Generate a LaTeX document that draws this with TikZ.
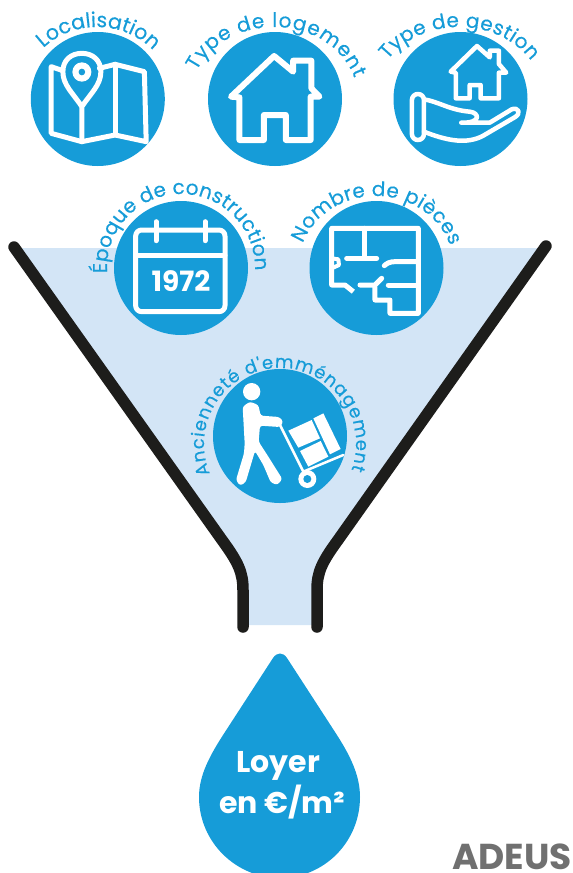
\documentclass[tikz,border=0pt]{standalone}
\usepackage{fontspec}
\setmainfont{Poppins}
\newfontfamily\arcfam[FakeBold=0.3]{Poppins}
\usetikzlibrary{decorations.text}
\definecolor{mainblue}{HTML}{169CD8}
\definecolor{paleblue}{HTML}{D3E5F6}
\definecolor{funnelblack}{HTML}{1D1D1B}
\definecolor{logogray}{HTML}{707070}
\newcommand\arcfont[1]{\arcfam\fontsize{#1}{#1}\selectfont\color{mainblue}}
\newcommand\arctext[8]{%
  % center x, center y, rx, ry, start, end, font size, text
  \path[decorate,decoration={text along path,text align={fit to path},
    text={|\arcfont{#7}|#8}}]
    (#1,#2) ++(#5:#3 and #4) arc[start angle=#5,end angle=#6,x radius=#3,y radius=#4];}
\tikzset{
  disc/.style={fill=mainblue,draw=none},
  icon/.style={draw=white,line width=5pt,line join=round,line cap=round},
  wall/.style={draw=funnelblack,line width=11.5pt,line cap=round,line join=round},
  zoomed/.style={x=0.33333pt,y=-0.33333pt},
  zoomedwide/.style={x=0.3655pt,y=-0.33333pt},
}
\begin{document}
\begin{tikzpicture}[x=1pt,y=-1pt]
\useasboundingbox (0,0) rectangle (573,873);
\coordinate (lt) at (14,247);
\coordinate (rt) at (546,246);
\coordinate (lb) at (243,627);
\coordinate (rb) at (317,627);
% funnel
\fill[paleblue] (17,248) -- (543,248) -- (338,540) .. controls (322,562) and (317,572) .. (317,590)
  -- (317,625) -- (243,625) -- (243,590) .. controls (243,572) and (238,562) .. (222,540) -- cycle;
\draw[wall] (lt) -- (222,540) .. controls (238,562) and (243,572) .. (243,590) -- (lb);
\draw[wall] (rt) -- (338,540) .. controls (322,562) and (317,572) .. (317,590) -- (rb);
% discs
\fill[disc] (97.8,99) circle [radius=67];
\fill[disc] (275,99) circle [radius=67];
\fill[disc] (460.5,99) circle [radius=67];
\fill[disc] (181,268) circle [radius=67];
\fill[disc] (376.5,268) circle [radius=67];
\fill[disc] (280,436) circle [radius=67];
% labels on arcs
\arctext{97}{99}{76}{72}{-135}{-45}{20.5}{Localisation}
\arctext{274}{99}{84}{72}{-157}{-17}{20}{Type de logement}
\arctext{459}{99}{85}{72}{-147}{-32}{20}{Type de gestion}
\arctext{181}{268}{74}{74}{-184}{2}{20}{Époque de construction}
\arctext{376}{268}{78}{72}{-160}{-18}{20}{Nombre de pièces}
\arctext{280}{444}{76}{76}{-203}{20}{18}{Ancienneté d'emménagement}
% map icon
\begin{scope}[zoomedwide]
  \draw[icon] (172,212) -- (140,200) -- (140,400) -- (224,425) -- (315,405) -- (400,425) -- (395,215) -- (315,193) -- (272,205);
  \draw[icon] (315,193) -- (315,405);
  \draw[icon] (224,320) .. controls (200,280) and (172,255) .. (172,215) .. controls (172,180) and (195,160) .. (224,160)
     .. controls (253,160) and (276,180) .. (276,215) .. controls (276,255) and (248,280) .. (224,320) -- (224,425);
  \fill[white] (224,216) circle [x radius=26,y radius=29];
  \fill[mainblue] (224,216) circle [x radius=9,y radius=10];
  % house icon
  \draw[icon,line width=6pt] (632,290) -- (750,168) -- (802,215) -- (802,182) -- (852,182) -- (852,265) -- (874,290)
     -- (850,290) -- (850,420) -- (782,420) -- (782,345) -- (722,345) -- (722,420) -- (655,420) -- (655,292) -- cycle;
  % managed house icon
  \draw[icon,line width=4.5pt] (1233,215) -- (1305,138) -- (1340,172) -- (1340,152) -- (1365,152) -- (1365,192) -- (1385,218)
     -- (1365,218) -- (1365,295) -- (1315,295) -- (1315,255) -- (1285,255) -- (1285,295) -- (1247,295) -- (1247,218) -- cycle;
  \draw[icon,line width=4.5pt,rounded corners=6pt] (1127,282) rectangle (1160,420);
  \draw[icon,line width=4.5pt] (1160,298) .. controls (1200,305) and (1230,330) .. (1285,335)
     .. controls (1312,338) and (1318,370) .. (1262,368) -- (1340,368) -- (1400,328)
     .. controls (1418,320) and (1428,340) .. (1408,352) -- (1330,402) .. controls (1290,430) and (1240,430) .. (1160,395);
\end{scope}
% calendar icon
\begin{scope}[zoomed,xshift=70pt,yshift=-170pt]
  \draw[icon,rounded corners=6pt] (197,180) rectangle (465,425);
  \draw[icon] (197,255) -- (465,255);
  \draw[icon] (258,155) -- (258,212);
  \draw[icon] (405,155) -- (405,212);
  % plan icon
  \draw[icon,line cap=butt] (850,365) -- (825,345) -- (785,345) -- (785,175) -- (1045,175) -- (1045,430) -- (960,430) -- (960,390) -- (915,390) -- (915,350);
  \draw[icon] (885,175) -- (885,265);
  \draw[icon] (830,265) -- (920,265);
  \draw[icon] (1045,275) -- (975,275) .. controls (960,275) and (950,280) .. (943,287);
  \draw[icon] (1045,345) -- (955,345);
  \draw[icon] (870,345) -- (915,345) -- (935,325);
  \draw[icon,line width=4pt] (785,265) -- (805,268) -- (807,285) -- (785,295);
\end{scope}
\node[anchor=base,text=white,font=\fontsize{28}{28}\selectfont\bfseries] (year) at (181,291.5) {1972};
% mover icon
\begin{scope}[zoomed,xshift=200pt,yshift=-375pt]
  \fill[white] (155,50) circle [radius=26];
  \fill[white,rounded corners=2.5pt] (128,95) -- (150,80) -- (175,90) -- (182,122) -- (238,126) -- (250,140) -- (240,156)
    -- (180,152) -- (176,200) -- (205,245) -- (247,312) -- (232,330) -- (212,322) -- (190,270) -- (165,228)
    -- (137,322) -- (120,332) -- (108,315) -- (132,235) -- (134,205) -- cycle;
  \draw[white,line width=2.5pt,line cap=round,line join=round] (240,150) -- (310,290) -- (430,240);
  \fill[white] (322,312) circle [radius=27];
  \fill[mainblue] (322,312) circle [radius=12];
  \fill[white] (265,167) -- (335,135) -- (360,190) -- (295,218) -- cycle;
  \fill[white] (300,228) -- (362,198) -- (385,245) -- (325,275) -- cycle;
  \fill[white] (340,130) -- (370,115) -- (422,222) -- (390,238) -- cycle;
\end{scope}
% drop
\fill[mainblue] (273,658) .. controls (277,652) and (283,652) .. (287,658)
  -- (335,732) .. controls (350,755) and (360,775) .. (360,797)
  .. controls (360,842) and (324,878) .. (280,878)
  .. controls (236,878) and (199,842) .. (199,797)
  .. controls (199,775) and (210,755) .. (225,732) -- cycle;
\node[anchor=base,text=white,font=\fontsize{30}{30}\selectfont\bfseries] (loyer) at (278,772) {Loyer};
\node[anchor=base,text=white,font=\fontsize{30}{30}\selectfont\bfseries] (price) at (282,813) {en €/m²};
\node[anchor=base,text=logogray,font=\fontsize{36}{36}\selectfont\bfseries,inner sep=0pt] (logo) at (512,869.5) {ADEUS};
\end{tikzpicture}
\end{document}
